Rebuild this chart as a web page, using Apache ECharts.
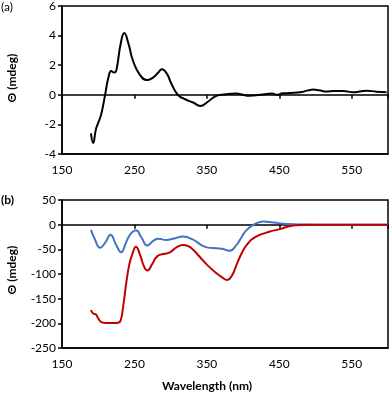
<!DOCTYPE html>
<html>
<head>
<meta charset="utf-8">
<script src="https://cdn.jsdelivr.net/npm/echarts@6/dist/echarts.min.js"></script>
<style>
html,body{margin:0;padding:0;background:#fff;}
#c{width:392px;height:394px;}
</style>
</head>
<body>
<div id="c"></div>
<script>
// Panel (a): CD spectrum
var wlA = [190,193,197,203,206,209.5,214,218,222,225,231,236,241.5,248,257.5,267,276,282,288,294.5,301,310,320,331,341,350,361,370,380,391,400,407,415,423,432,440,446,455,465,481,490,497,505,515,525,538,552,561,571,584,598];
var thetaA = [-2.6,-3.25,-2.3,-1.5,-0.9,0,1.15,1.6,1.5,1.65,3.45,4.17,3.5,2.3,1.35,1.0,1.18,1.45,1.72,1.45,0.75,0.0,-0.3,-0.52,-0.75,-0.52,-0.12,0.0,0.05,0.08,0.0,-0.07,-0.04,0.0,0.05,0.08,0.0,0.1,0.12,0.19,0.3,0.35,0.3,0.22,0.25,0.26,0.17,0.22,0.28,0.21,0.17];

// Panel (b): blue and red spectra
var wlBlue = [190,195.5,202.5,209.5,217,224.5,231.5,239,245,252,260,267.5,276,283,294,305,317,331,343,350,363,371,381,391,398,405,416,428,442,460,480,500,530,560,600];
var thetaBlue = [-10.5,-30,-47,-37,-20.5,-40,-56,-34,-18,-11.5,-27,-42,-33,-28.5,-31,-28,-24,-30.5,-42,-46,-48,-49,-53,-41,-25,-10.5,1,6.5,4.4,1.6,0.2,0,0,0,0];
var wlRed = [190,193,197,200,205,211,220,227.5,231,234.5,239,243,247.5,252,257.5,263,268,274,281.5,290,299,308,317,325,331,340,350,362,371,378,385,391,398,405,416,437,451,469,487,500,530,560,600];
var thetaRed = [-173,-180,-182,-190,-198,-199.5,-199.5,-199,-194,-165,-115,-80,-58,-45,-60,-84,-93,-81,-64,-59.5,-56,-46,-41,-44,-51,-65,-81,-97,-107,-112,-102,-81,-58,-40.8,-26,-14,-9,-1.6,0,0,0,0,0];

// Axis settings
var xMin = 150, xMax = 600, xStep = 100;
var yA = {min: -4, max: 6, step: 2};
var yB = {min: -250, max: 50, step: 50};

function zip(xs, ys){ return xs.map(function(x,i){ return [x, ys[i]]; }); }

var FONT = 'Lato';
var black = '#000';

function bottomX(gridIndex){
  return {
    type:'value', gridIndex:gridIndex, min:xMin, max:xMax, interval:xStep, position:'bottom',
    axisLine:{show:true, onZero:false, lineStyle:{color:black, width:1.5}},
    axisTick:{show:false}, splitLine:{show:false},
    axisLabel:{show:true, margin:10, color:black, fontFamily:FONT, fontSize:12, showMaxLabel:false}
  };
}
function zeroX(gridIndex){
  return {
    type:'value', gridIndex:gridIndex, min:xMin, max:xMax, interval:xStep, position:'bottom',
    axisLine:{show:true, onZero:true, lineStyle:{color:black, width:1.5}},
    axisTick:{show:true, inside:false, length:4, lineStyle:{color:black, width:1.5}},
    splitLine:{show:false}, axisLabel:{show:false}
  };
}
function yAx(gridIndex, r){
  return {
    type:'value', gridIndex:gridIndex, min:r.min, max:r.max, interval:r.step,
    axisLine:{show:true, onZero:false, lineStyle:{color:black, width:1.5}},
    axisTick:{show:true, inside:false, length:4, lineStyle:{color:black, width:1.5}},
    splitLine:{show:false},
    axisLabel:{margin:6, color:black, fontFamily:FONT, fontSize:12}
  };
}

var chart = echarts.init(document.getElementById('c'), null, {renderer:'canvas'});
chart.setOption({
  animation:false,
  backgroundColor:'#fff',
  grid:[
    {left:62, right:4, top:6, height:148, show:true, borderColor:black, borderWidth:1.5, containLabel:false},
    {left:62, right:4, top:200, height:148, show:true, borderColor:black, borderWidth:1.5, containLabel:false}
  ],
  xAxis:[bottomX(0), zeroX(0), bottomX(1), zeroX(1)],
  yAxis:[yAx(0, yA), yAx(1, yB)],
  series:[
    {type:'line', xAxisIndex:0, yAxisIndex:0, data:zip(wlA, thetaA), smooth:0.5, showSymbol:false,
     lineStyle:{color:'#000', width:2}, z:5},
    {type:'line', xAxisIndex:2, yAxisIndex:1, data:zip(wlBlue, thetaBlue), smooth:0.5, showSymbol:false,
     lineStyle:{color:'#4472C4', width:2}, z:5},
    {type:'line', xAxisIndex:2, yAxisIndex:1, data:zip(wlRed, thetaRed), smooth:0.5, showSymbol:false,
     lineStyle:{color:'#C00000', width:2}, z:6}
  ],
  graphic:[
    {type:'text', left:1, top:1, style:{text:'(a)', fontFamily:FONT, fontSize:12, fill:black}},
    {type:'text', left:1, top:194, style:{text:'(b)', fontFamily:FONT, fontSize:12, fontWeight:'bold', fill:black}},
    {type:'text', x:12, y:78, rotation:Math.PI/2, style:{text:'Θ (mdeg)', fontFamily:FONT, fontSize:12, fontWeight:'bold', fill:black, align:'center', verticalAlign:'middle'}},
    {type:'text', x:12, y:270, rotation:Math.PI/2, style:{text:'Θ (mdeg)', fontFamily:FONT, fontSize:12, fontWeight:'bold', fill:black, align:'center', verticalAlign:'middle'}},
    {type:'text', x:207, y:386, style:{text:'Wavelength (nm)', fontFamily:FONT, fontSize:12, fontWeight:'bold', fill:black, align:'center', verticalAlign:'middle'}}
  ]
});
</script>
</body>
</html>
